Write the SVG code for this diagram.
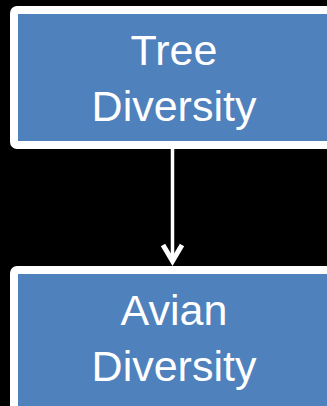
<svg xmlns="http://www.w3.org/2000/svg" width="327" height="406" viewBox="0 0 327 406">
  <style>
    .box { fill: #4f81bd; stroke: #ffffff; stroke-width: 8; }
    .label { fill: #ffffff; font-family: "Liberation Sans", Arial, sans-serif; font-size: 43px; text-anchor: middle; }
    .edge { stroke: #ffffff; stroke-width: 3.5; fill: none; }
    .head { stroke: #ffffff; stroke-width: 5; fill: none; stroke-linejoin: miter; }
  </style>
  <rect width="327" height="406" fill="#000000"/>
  <g id="tree">
    <rect class="box" x="14" y="10" width="330" height="135" rx="3"/>
    <text class="label" x="174" y="65">Tree</text>
    <text class="label" x="174" y="121">Diversity</text>
  </g>
  <g id="connectors">
    <line class="edge" x1="172.5" y1="149" x2="172.5" y2="262"/>
    <polyline class="head" points="163,245 172.5,261 182,245"/>
  </g>
  <g id="avian">
    <rect class="box" x="14" y="270" width="330" height="150" rx="3"/>
    <text class="label" x="174" y="325">Avian</text>
    <text class="label" x="174" y="381">Diversity</text>
  </g>
</svg>
